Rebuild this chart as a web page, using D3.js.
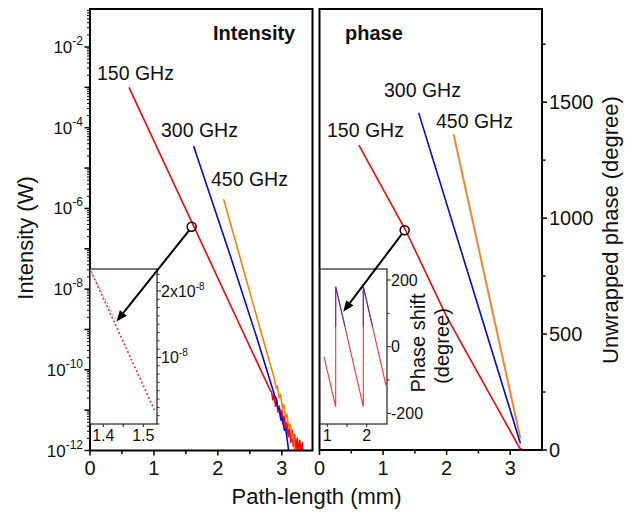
<!DOCTYPE html>
<html><head><meta charset="utf-8">
<script src="https://cdn.jsdelivr.net/npm/d3@7"></script>
<style>body{margin:0;background:#fff} text{font-family:Arial,"Liberation Sans",sans-serif;fill:#111}</style>
</head><body><svg id="c" width="632" height="512"></svg>
<script>
// ---------------- data ----------------
const seriesNames = ["150 GHz", "300 GHz", "450 GHz"];
// path length (mm), intensity (W)
const intensity150 = [[0.61,1.0e-3],[2.815,3.2e-11],[2.84,2.8e-11],[2.86,1.8e-11],[2.88,2.5e-11],[2.90,1.26e-11],[2.92,1.8e-11],[2.94,8.9e-12],[2.96,1.26e-11],[2.98,6.3e-12],[3.00,1.0e-11],[3.02,4.5e-12],[3.04,7.1e-12],[3.06,3.2e-12],[3.08,5.0e-12],[3.10,2.2e-12],[3.12,4.0e-12],[3.14,1.6e-12],[3.16,3.2e-12],[3.18,1.26e-12],[3.20,2.5e-12],[3.22,1.0e-12],[3.24,2.0e-12],[3.26,0.9e-12],[3.28,1.8e-12],[3.30,0.9e-12],[3.32,1.6e-12],[3.33,0.8e-12]];
const intensity300 = [[1.62,3.5e-5],[2.18,7.9e-8],[2.62,5.5e-10],[2.86,3.2e-11],[2.89,2.2e-11],[2.91,2.0e-11],[2.94,1.1e-11],[2.96,1.1e-11],[2.99,5.6e-12],[3.01,6.3e-12],[3.04,3.2e-12],[3.06,3.5e-12],[3.09,1.6e-12],[3.11,0.9e-12]];
const intensity450 = [[2.09,1.7e-6],[2.71,5.5e-10],[2.88,6.3e-11],[2.91,3.5e-11],[2.93,4.0e-11],[2.96,2.0e-11],[2.98,2.5e-11],[3.01,1.1e-11],[3.03,1.4e-11],[3.06,6.3e-12],[3.08,7.9e-12],[3.11,3.5e-12],[3.13,4.5e-12],[3.16,2.0e-12],[3.18,2.5e-12],[3.21,0.9e-12]];
// path length (mm), unwrapped phase (degree)
const phase150 = [[0.62,1315],[1.35,951],[2.00,575],[3.15,8],[3.20,0]];
const phase300 = [[1.56,1454],[2.30,795],[3.16,29]];
const phase450 = [[2.11,1361],[3.16,50]];
// inset: intensity zoom (linear W)
const insetIntensity = [[1.369,2.30e-8],[1.529,0.195e-8]];
const insetIntensityBlue = [[1.369,2.30e-8],[1.43,1.58e-8]];
// inset: wrapped phase shift (degree)
const insetPhaseRed = [[0.916,-30],[1.213,-180],[1.213,180],[1.914,-180],[1.914,180],[2.49,-116]];
const insetPhaseBlue1 = [[1.213,60],[1.213,180],[1.45,60]];
const insetPhaseBlue2 = [[1.914,60],[1.914,180],[2.15,60]];
// markers / arrows
const markIntensity = [1.59, 3.5e-7], arrowTipIntensity = [1.433, 1.54e-8];
const markPhase = [1.34, 948], arrowTipPhase = [1.405, 105];
// tick labels
const xTicks = [0,1,2,3];
const logTickExps = [-2,-4,-6,-8,-10,-12];
const phaseTicks = [0,500,1000,1500];
const insetITicks = [1.4,1.5];
const insetPTicks = [1,2];
const insetPhaseTicks = [-200,0,200];

// ---------------- drawing ----------------
const svg = d3.select("#c");
const xL = d3.scaleLinear().domain([0,3.48]).range([90,312.5]);
const yL = d3.scaleLog().domain([1e-12, Math.pow(10,-1.058)]).range([450.5,9]);
const xR = d3.scaleLinear().domain([0,3.5]).range([319.5,542]);
const yR = d3.scaleLinear().domain([0,1902]).range([450,9]);
const xLi = d3.scaleLinear().domain([1.36675,1.53425]).range([90,157]);
const yLi = d3.scaleLinear().domain([0,2.33e-8]).range([424,269]);
const xRi = d3.scaleLinear().domain([0.8147,2.515]).range([320,387]);
const yRi = d3.scaleLinear().domain([-231.8,233]).range([424,269]);

const defs = svg.append("defs");
defs.append("clipPath").attr("id","cl").append("rect").attr("x",90).attr("y",9).attr("width",222.5).attr("height",441.5);
defs.append("clipPath").attr("id","cr").append("rect").attr("x",319.5).attr("y",9).attr("width",222.5).attr("height",441);

const colors = ["#ff0000","#0000ff","#ff8000"];

function line(xs, ys){ return d3.line().x(d=>xs(d[0])).y(d=>ys(d[1])); }

// left curves
const gL = svg.append("g").attr("clip-path","url(#cl)");
[intensity150,intensity300,intensity450].forEach((s,i)=>{
  gL.append("path").attr("d",line(xL,yL)(s)).attr("fill","none").attr("stroke",colors[i]).attr("stroke-width",1.6).attr("stroke-linejoin","round");
});
// right curves
const gR = svg.append("g").attr("clip-path","url(#cr)");
gR.append("path").attr("d",line(xR,yR)(phase450)).attr("fill","none").attr("stroke","#ddd4f4").attr("stroke-width",2.6);
[phase150,phase300,phase450].forEach((s,i)=>{
  gR.append("path").attr("d",line(xR,yR)(s)).attr("fill","none").attr("stroke",colors[i]).attr("stroke-width",1.6);
});

// frames
svg.append("rect").attr("x",90).attr("y",9).attr("width",222.5).attr("height",441.5).attr("fill","none").attr("stroke","#000").attr("stroke-width",2);
svg.append("rect").attr("x",319.5).attr("y",9).attr("width",222.5).attr("height",441).attr("fill","none").attr("stroke","#000").attr("stroke-width",2);

// x axes ticks
function xAxis(xs, y0){
  const g = svg.append("g");
  d3.range(0,3.5,0.5).forEach(v=>{
    const major = Math.abs(v-Math.round(v))<1e-6;
    g.append("line").attr("x1",xs(v)).attr("x2",xs(v)).attr("y1",y0).attr("y2",y0+(major?5:3.5)).attr("stroke","#000").attr("stroke-width",1.5);
  });
  xTicks.forEach(v=>{
    g.append("text").attr("x",xs(v)).attr("y",475).attr("text-anchor","middle").attr("font-size",20).text(v);
  });
}
xAxis(xL,450.5); xAxis(xR,450);

// left log axis
const gy = svg.append("g");
for(let e=-12;e<=-2;e++){
  gy.append("line").attr("x1",84.5).attr("x2",90).attr("y1",yL(Math.pow(10,e))).attr("y2",yL(Math.pow(10,e))).attr("stroke","#000").attr("stroke-width",1.5);
  for(let m=2;m<=9;m++){
    const v = m*Math.pow(10,e);
    if(v>yL.domain()[1]) continue;
    gy.append("line").attr("x1",87).attr("x2",90).attr("y1",yL(v)).attr("y2",yL(v)).attr("stroke","#000").attr("stroke-width",1);
  }
}
logTickExps.forEach(e=>{
  const t = gy.append("text").attr("x",83).attr("y",yL(Math.pow(10,e))+6).attr("text-anchor","end").attr("font-size",17);
  t.append("tspan").text("10");
  t.append("tspan").attr("dy",-8).attr("font-size",12).text("-"+Math.abs(e));
});

// right phase axis
const gp = svg.append("g");
d3.range(0,1901,250).forEach(v=>{
  const major = v%500===0;
  gp.append("line").attr("x1",542).attr("x2",542+(major?5:3.5)).attr("y1",yR(v)).attr("y2",yR(v)).attr("stroke","#000").attr("stroke-width",1.5);
});
phaseTicks.forEach(v=>{
  gp.append("text").attr("x",549).attr("y",yR(v)).attr("dy","0.36em").attr("font-size",20).text(v);
});

// axis titles
svg.append("text").attr("transform","translate(33,238) rotate(-90)").attr("text-anchor","middle").attr("font-size",22).text("Intensity (W)");
svg.append("text").attr("transform","translate(618,230) rotate(-90)").attr("text-anchor","middle").attr("font-size",22).text("Unwrapped phase (degree)");
svg.append("text").attr("x",316.5).attr("y",504).attr("text-anchor","middle").attr("font-size",22).text("Path-length (mm)");

// panel titles
svg.append("text").attr("x",213).attr("y",40).attr("font-size",20).attr("font-weight","bold").text("Intensity");
svg.append("text").attr("x",345).attr("y",39.5).attr("font-size",20).attr("font-weight","bold").text("phase");

// series labels
const labL = [[97,80],[161,137],[211,186]];
const labR = [[327,137],[384,97],[436,128]];
seriesNames.forEach((n,i)=>{
  svg.append("text").attr("x",labL[i][0]).attr("y",labL[i][1]).attr("font-size",19.5).text(n);
  svg.append("text").attr("x",labR[i][0]).attr("y",labR[i][1]).attr("font-size",19.5).text(n);
});

// ---------- left inset ----------
const gi = svg.append("g");
gi.append("rect").attr("x",90).attr("y",269).attr("width",67).attr("height",155).attr("fill","#fff").attr("stroke","#222").attr("stroke-width",1.2);
gi.append("path").attr("d",line(xLi,yLi)(insetIntensity)).attr("fill","none").attr("stroke","#ff2020").attr("stroke-width",1.7).attr("stroke-dasharray","1.7,2.5");
gi.append("path").attr("d",line(xLi,yLi)(insetIntensityBlue)).attr("fill","none").attr("stroke","#5050d0").attr("stroke-width",1.2).attr("stroke-dasharray","1.2,3").attr("stroke-dashoffset",2).attr("opacity",0.7);
d3.range(0, 2.33e-8, 0.125e-8).forEach((v,k)=>{
  const major = k%8===0 && k>0;
  gi.append("line").attr("x1",157).attr("x2",157+(major?4:2.5)).attr("y1",yLi(v)).attr("y2",yLi(v)).attr("stroke","#222").attr("stroke-width",1);
});
[1.4,1.45,1.5].forEach(v=>{
  gi.append("line").attr("x1",xLi(v)).attr("x2",xLi(v)).attr("y1",424).attr("y2",427).attr("stroke","#222").attr("stroke-width",1);
});
insetITicks.forEach(v=>{
  gi.append("text").attr("x",xLi(v)).attr("y",441).attr("text-anchor","middle").attr("font-size",16).text(v.toFixed(1));
});
[[2e-8,"2x10"],[1e-8,"10"]].forEach(([v,s])=>{
  const t = gi.append("text").attr("x",161).attr("y",yLi(v)).attr("dy","0.36em").attr("font-size",16);
  t.append("tspan").text(s);
  t.append("tspan").attr("dy",-7).attr("font-size",10).text("-8");
});

// ---------- right inset ----------
const gj = svg.append("g");
gj.append("rect").attr("x",320).attr("y",269).attr("width",67).attr("height",155).attr("fill","#fff").attr("stroke","#222").attr("stroke-width",1.2);
gj.append("path").attr("d",line(xRi,yRi)(insetPhaseRed)).attr("fill","none").attr("stroke","#ff3030").attr("stroke-width",1.1);
[insetPhaseBlue1,insetPhaseBlue2].forEach(s=>{
  gj.append("path").attr("d",line(xRi,yRi)(s)).attr("fill","none").attr("stroke","#3030c8").attr("stroke-width",1.1).attr("opacity",0.85);
});
d3.range(-200,201,100).forEach(v=>{
  const major = v%200===0;
  gj.append("line").attr("x1",387).attr("x2",387+(major?4:2.5)).attr("y1",yRi(v)).attr("y2",yRi(v)).attr("stroke","#222").attr("stroke-width",1);
});
[1,1.5,2].forEach(v=>{
  gj.append("line").attr("x1",xRi(v)).attr("x2",xRi(v)).attr("y1",424).attr("y2",427).attr("stroke","#222").attr("stroke-width",1);
});
insetPTicks.forEach(v=>{
  gj.append("text").attr("x",xRi(v)).attr("y",441).attr("text-anchor","middle").attr("font-size",16).text(v);
});
insetPhaseTicks.forEach(v=>{
  gj.append("text").attr("x",391).attr("y",yRi(v)).attr("dy","0.36em").attr("font-size",16).text(v);
});
svg.append("text").attr("transform","translate(425,343) rotate(-90)").attr("text-anchor","middle").attr("font-size",20).text("Phase shift");
svg.append("text").attr("transform","translate(449,346) rotate(-90)").attr("text-anchor","middle").attr("font-size",20).text("(degree)");

// ---------- markers and arrows ----------
function arrow(x1,y1,x2,y2){
  const ang = Math.atan2(y2-y1,x2-x1), L=11, Wd=4.5;
  const bx = x2-L*Math.cos(ang), by = y2-L*Math.sin(ang);
  svg.append("line").attr("x1",x1).attr("y1",y1).attr("x2",bx).attr("y2",by).attr("stroke","#000").attr("stroke-width",2);
  const pts = [[x2,y2],[bx+Wd*Math.sin(ang),by-Wd*Math.cos(ang)],[bx-Wd*Math.sin(ang),by+Wd*Math.cos(ang)]];
  svg.append("polygon").attr("points",pts.map(p=>p.join(",")).join(" ")).attr("fill","#000");
}
const cL = [xL(markIntensity[0]), yL(markIntensity[1])];
const cR = [xR(markPhase[0]), yR(markPhase[1])];
arrow(cL[0]-2.5,cL[1]+3.5, xLi(arrowTipIntensity[0]), yLi(arrowTipIntensity[1]));
arrow(cR[0]-2.5,cR[1]+3.5, xRi(arrowTipPhase[0]), yRi(arrowTipPhase[1]));
svg.append("circle").attr("cx",cL[0]).attr("cy",cL[1]).attr("r",4.5).attr("fill","none").attr("stroke","#000").attr("stroke-width",1.5);
svg.append("circle").attr("cx",cR[0]).attr("cy",cR[1]).attr("r",4.5).attr("fill","none").attr("stroke","#000").attr("stroke-width",1.5);
</script></body></html>
